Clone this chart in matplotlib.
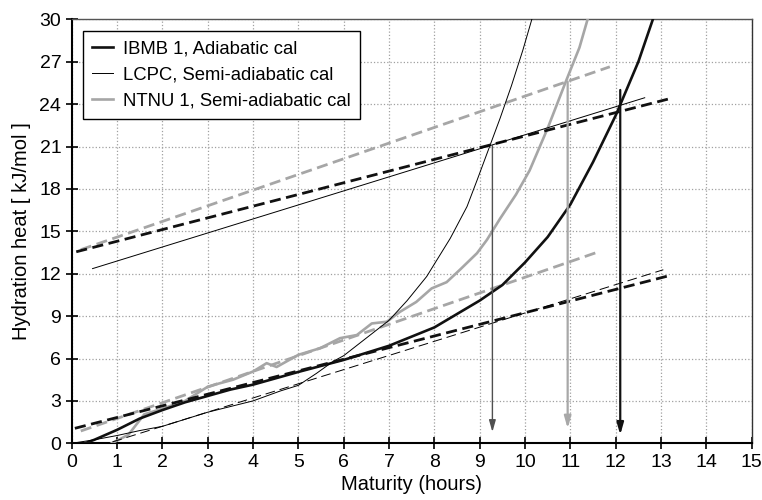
import matplotlib
matplotlib.use("Agg")
import matplotlib.pyplot as plt

plt.rcParams['font.family'] = ['Liberation Sans', 'DejaVu Sans']

# measured hydration heat curves
ibmb_t = [0, 0.25, 0.5, 1, 1.5, 2, 2.5, 3, 3.5, 4, 5, 6, 7, 8, 9, 9.5, 10, 10.5, 11, 11.5, 12, 12.5, 12.82]
ibmb_q = [0, -0.05, 0.25, 0.95, 1.75, 2.35, 2.9, 3.35, 3.8, 4.15, 5.05, 5.9, 6.9, 8.2, 10.1, 11.2, 12.8, 14.6, 16.9, 19.9, 23.2, 27.0, 30.0]

lcpc_t = [0, 0.5, 1, 1.5, 2, 2.5, 3, 3.5, 4, 4.6, 5, 5.4, 5.77, 6, 6.36, 7, 7.4, 7.83, 8.35, 8.72, 8.94, 9.23, 9.45, 9.7, 9.95, 10.15]
lcpc_q = [0, 0.25, 0.55, 0.9, 1.2, 1.7, 2.2, 2.6, 3.0, 3.7, 4.1, 4.95, 5.8, 6.2, 7.1, 8.7, 10.1, 11.8, 14.5, 16.75, 18.6, 21.1, 23.0, 25.3, 27.8, 30.0]

ntnu_t = [0.88, 1.25, 1.6, 2, 2.5, 3, 3.27, 3.56, 4, 4.3, 4.52, 5, 5.48, 5.92, 6.29, 6.62, 6.95, 7.24,
          7.6, 7.94, 8.27, 8.57, 8.94, 9.16, 9.45, 9.8, 10.1, 10.5, 10.9, 11.2, 11.38]
ntnu_q = [0, 0.6, 2.05, 2.45, 3.0, 4.0, 4.25, 4.5, 5.08, 5.67, 5.4, 6.26, 6.73, 7.44, 7.66, 8.48, 8.6, 9.3,
          10.0, 10.96, 11.4, 12.3, 13.45, 14.4, 15.9, 17.6, 19.3, 22.3, 25.6, 28.0, 30.0]

# straight-line fits (start, end)
ibmb_fit_t = [0.07, 13.18]
ibmb_fit_q = [1.06, 11.86]
ibmb_shift_t = [0.1, 13.15]
ibmb_shift_q = [13.55, 24.35]

ntnu_fit_t = [0.2, 11.65]
ntnu_fit_q = [0.87, 13.58]
ntnu_shift_t = [0.2, 11.87]
ntnu_shift_q = [13.7, 26.64]

lcpc_fit_t = [0.9, 13.05]
lcpc_fit_q = [0.1, 12.28]
lcpc_shift_t = [0.46, 12.64]
lcpc_shift_q = [12.36, 24.45]

# arrows down to the time axis
arrow_t = [9.28, 10.94, 12.1]
arrow_top = [21.1, 25.6, 25.0]
arrow_bottom = [0.8, 1.05, 0.6]
arrow_colors = ['#505050', '#a8a8a8', '#111111']
arrow_widths = [1.0, 1.6, 1.6]

gray = '#a6a6a6'

fig = plt.figure(figsize=(7.62, 5.0), dpi=100)
ax = fig.add_axes([0.0941, 0.1134, 0.8924, 0.848])

ax.plot(ibmb_t, ibmb_q, color='#111111', lw=1.9, label='IBMB 1, Adiabatic cal', zorder=4)
ax.plot(lcpc_t, lcpc_q, color='black', lw=0.7, label='LCPC, Semi-adiabatic cal', zorder=4)
ax.plot(ntnu_t, ntnu_q, color=gray, lw=1.9, label='NTNU 1, Semi-adiabatic cal', zorder=3)

ax.plot(ibmb_fit_t, ibmb_fit_q, color='#111111', lw=2.0, ls=(0, (4, 2)), zorder=4)
ax.plot(ibmb_shift_t, ibmb_shift_q, color='#111111', lw=2.0, ls=(0, (4, 2)), zorder=4)
ax.plot(ntnu_fit_t, ntnu_fit_q, color=gray, lw=2.0, ls=(0, (4, 2)), zorder=3)
ax.plot(ntnu_shift_t, ntnu_shift_q, color=gray, lw=2.0, ls=(0, (4, 2)), zorder=3)
ax.plot(lcpc_fit_t, lcpc_fit_q, color='black', lw=0.7, ls=(0, (10, 5)), zorder=4)
ax.plot(lcpc_shift_t, lcpc_shift_q, color='black', lw=0.7, zorder=4)

for t, top, bot, c, w in zip(arrow_t, arrow_top, arrow_bottom, arrow_colors, arrow_widths):
    ax.annotate('', xy=(t, bot), xytext=(t, top),
                arrowprops=dict(arrowstyle='-|>,head_length=0.7,head_width=0.2',
                                color=c, lw=w, shrinkA=0, shrinkB=0), zorder=5)

ax.set_xlim(0, 15)
ax.set_ylim(0, 30)
ax.set_xticks(range(0, 16))
ax.set_yticks(range(0, 31, 3))
ax.tick_params(direction='inout', length=8, width=1.2, labelsize=14, colors='black')
ax.grid(True, color='#a0a0a0', ls=':', lw=0.9)
ax.set_axisbelow(True)

for side in ['left', 'bottom']:
    ax.spines[side].set_linewidth(1.5)
    ax.spines[side].set_color('black')
ax.spines['top'].set_color('#555555')
ax.spines['top'].set_linewidth(1.0)
ax.spines['right'].set_color('#333333')
ax.spines['right'].set_linewidth(1.0)

ax.set_xlabel('Maturity (hours)', fontsize=14.5, labelpad=3)
ax.set_ylabel('Hydration heat [ kJ/mol ]', fontsize=14.5, labelpad=6)

leg = ax.legend(loc='upper left', bbox_to_anchor=(0.016, 0.973), borderaxespad=0,
                fontsize=13.3, handlelength=1.1, handletextpad=0.55, labelspacing=0.5,
                fancybox=False, framealpha=1, edgecolor='black', borderpad=0.52)
leg.get_frame().set_linewidth(1.0)

fig.savefig('out.png', dpi=100)
